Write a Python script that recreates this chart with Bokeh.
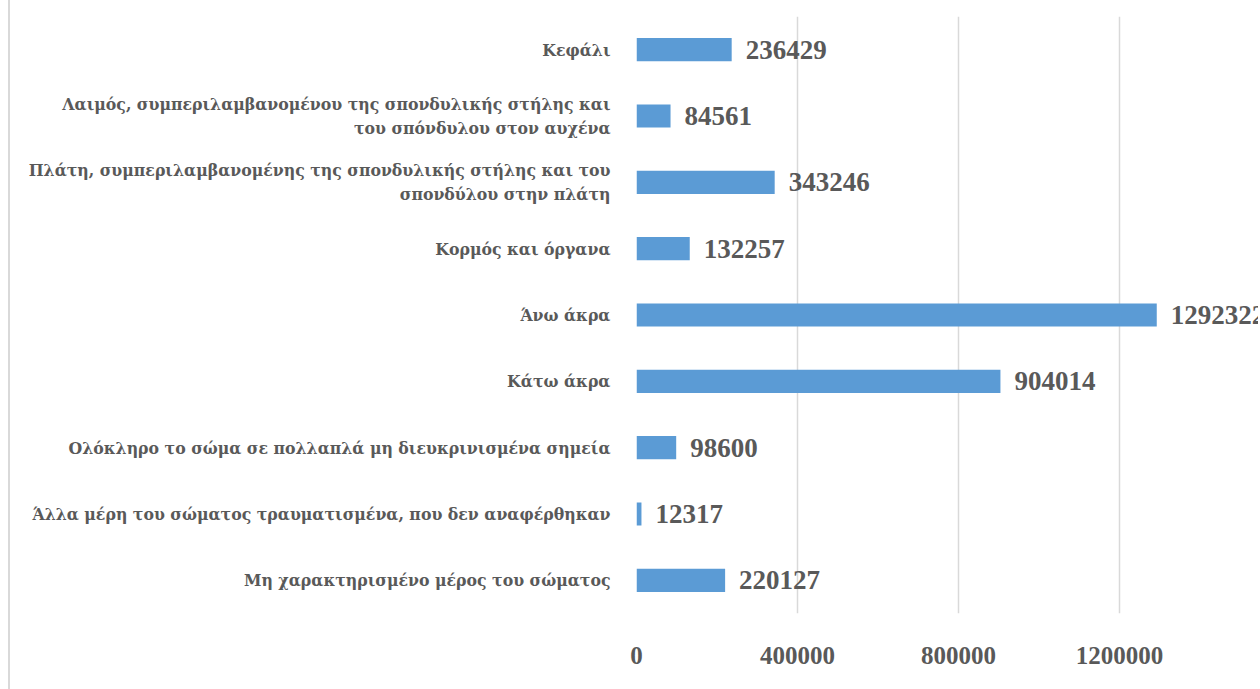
from bokeh.plotting import figure
from bokeh.models import ColumnDataSource, FactorRange, Range1d, FixedTicker, NumeralTickFormatter, Label
from bokeh.core.properties import value
from bokeh.embed import file_html
from bokeh.resources import INLINE

categories = [
    "Κεφάλι",
    "Λαιμός, συμπεριλαμβανομένου της σπονδυλικής στήλης και\nτου σπόνδυλου στον αυχένα",
    "Πλάτη, συμπεριλαμβανομένης της σπονδυλικής στήλης και του\nσπονδύλου στην πλάτη",
    "Κορμός και όργανα",
    "Άνω άκρα",
    "Κάτω άκρα",
    "Ολόκληρο το σώμα σε πολλαπλά μη διευκρινισμένα σημεία",
    "Άλλα μέρη του σώματος τραυματισμένα, που δεν αναφέρθηκαν",
    "Μη χαρακτηρισμένο μέρος του σώματος",
]
values = [236429, 84561, 343246, 132257, 1292322, 904014, 98600, 12317, 220127]
ticks = [0, 400000, 800000, 1200000, 1600000]

FONT = "Liberation Serif"
CATFONT = "DejaVu Serif Condensed"
GREY = "#595959"
CAT_SIZE = "17.5px"

src = ColumnDataSource(dict(cat=categories, val=values, lab=[str(v) for v in values]))
factors = list(reversed(categories))

p = figure(width=1250, height=689, output_backend="svg", toolbar_location=None,
           y_range=FactorRange(factors=factors, range_padding=0),
           x_range=Range1d(0, 1550000),
           min_border_left=626, min_border_right=0, min_border_top=16, min_border_bottom=76,
           styles={"margin-left": "8px", "border-left": "2px solid #d9d9d9"})
p.outline_line_color = None
p.background_fill_color = "white"

p.hbar(y="cat", right="val", left=0, height=0.35, source=src,
       fill_color="#5b9bd5", line_color=None)

p.text(x="val", y="cat", text="lab", source=src, x_offset=14,
       text_align="left", text_baseline="middle",
       text_font=value(FONT), text_font_style="bold", text_font_size="27px",
       text_color=GREY)

# multi-line category labels: each line centred, drawn as screen-space annotations
overrides = {}
for c in categories:
    if "\n" in c:
        overrides[c] = " "
        ysyn = factors.index(c) + 0.5   # synthetic coordinate of the factor's centre
        p.add_layout(Label(x=0, y=ysyn, x_offset=-294, text=c, text_align="center",
                           text_baseline="middle", text_font=CATFONT,
                           text_font_style="bold", text_font_size=CAT_SIZE,
                           text_color=GREY, text_line_height=1.45, level="overlay"))

p.xaxis.ticker = FixedTicker(ticks=ticks)
p.xaxis.formatter = NumeralTickFormatter(format="0")
p.xaxis.axis_line_color = None
p.xaxis.major_tick_line_color = None
p.xaxis.minor_tick_line_color = None
p.xaxis.major_label_standoff = 27
p.xaxis.major_label_text_font = FONT
p.xaxis.major_label_text_font_style = "bold"
p.xaxis.major_label_text_font_size = "25px"
p.xaxis.major_label_text_color = GREY

p.yaxis.major_label_overrides = overrides
p.yaxis.axis_line_color = None
p.yaxis.major_tick_line_color = None
p.yaxis.minor_tick_line_color = None
p.yaxis.major_label_standoff = 20
p.yaxis.major_label_text_font = CATFONT
p.yaxis.major_label_text_font_style = "bold"
p.yaxis.major_label_text_font_size = CAT_SIZE
p.yaxis.major_label_text_color = GREY

p.xgrid.grid_line_color = "#d9d9d9"
p.xgrid.grid_line_width = 1.5
p.ygrid.grid_line_color = None

open("out.html", "w").write(file_html(p, INLINE))
